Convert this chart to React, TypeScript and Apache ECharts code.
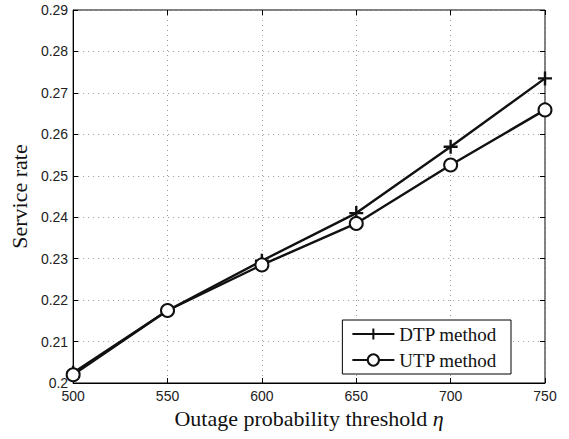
import React, { useEffect, useRef } from "react";
import * as echarts from "echarts";

const thresholds = [500, 550, 600, 650, 700, 750];
const dtpValues = [0.2025, 0.2175, 0.2295, 0.241, 0.257, 0.2735];
const utpValues = [0.202, 0.2175, 0.2285, 0.2385, 0.2526, 0.2659];
const seriesNames = ["DTP method", "UTP method"];

const PLUS = "path://M10,0 L10,20 M0,10 L20,10";

export default function App() {
  const ref = useRef<HTMLDivElement>(null);
  useEffect(() => {
    if (!ref.current) return;
    const chart = echarts.init(ref.current, null, { renderer: "svg" });
    const tickFont = { fontFamily: "Liberation Sans", fontSize: 14, color: "#222" };
    const fmtY = (v: number) => String(Number(v.toFixed(2)));
    const baseX = {
      type: "value" as const,
      min: 500,
      max: 750,
      interval: 50,
    };
    const baseY = {
      type: "value" as const,
      min: 0.2,
      max: 0.29,
      interval: 0.01,
    };
    chart.setOption({
      animation: false,
      backgroundColor: "#fff",
      grid: {
        left: 71,
        top: 10,
        right: 24,
        bottom: 56,
        show: true,
        borderColor: "#000",
        borderWidth: 1,
        backgroundColor: "transparent",
      },
      legend: {
        orient: "vertical",
        right: 58,
        bottom: 65,
        backgroundColor: "#fff",
        borderColor: "#000",
        borderWidth: 1,
        borderRadius: 0,
        padding: [4, 14, 4, 9],
        itemGap: 6,
        itemWidth: 42,
        itemHeight: 14,
        textStyle: { fontFamily: "Liberation Serif", fontSize: 19, lineHeight: 20, color: "#111", padding: [0, 0, 0, 0] },
        data: seriesNames,
      },
      xAxis: [
        {
          ...baseX,
          position: "bottom",
          axisLine: { show: true, lineStyle: { color: "#000", width: 1 } },
          axisTick: { show: true, inside: true, length: 5, lineStyle: { color: "#000" } },
          axisLabel: { ...tickFont, margin: 6 },
          splitLine: { show: true, lineStyle: { color: "#999", type: [1, 4], width: 1 } },
          name: "Outage probability threshold {i|η}",
          nameLocation: "middle",
          nameGap: 24,
          nameTextStyle: {
            fontFamily: "Liberation Serif",
            fontSize: 22,
            color: "#111",
            verticalAlign: "top",
            rich: { i: { fontFamily: "Liberation Serif", fontStyle: "italic", fontSize: 22, color: "#111" } },
          },
        },
        {
          ...baseX,
          position: "top",
          axisLine: { show: false },
          axisTick: { show: true, inside: true, length: 5, lineStyle: { color: "#000" } },
          axisLabel: { show: false },
          splitLine: { show: false },
        },
      ],
      yAxis: [
        {
          ...baseY,
          position: "left",
          axisLine: { show: true, lineStyle: { color: "#000", width: 1 } },
          axisTick: { show: true, inside: true, length: 5, lineStyle: { color: "#000" } },
          axisLabel: { ...tickFont, margin: 5, formatter: fmtY },
          splitLine: { show: true, lineStyle: { color: "#999", type: [1, 4], width: 1 } },
          name: "Service rate",
          nameLocation: "middle",
          nameGap: 38,
          nameTextStyle: { fontFamily: "Liberation Serif", fontSize: 22, color: "#111" },
        },
        {
          ...baseY,
          position: "right",
          axisLine: { show: false },
          axisTick: { show: true, inside: true, length: 5, lineStyle: { color: "#000" } },
          axisLabel: { show: false },
          splitLine: { show: false },
        },
      ],
      series: [
        {
          name: seriesNames[0],
          type: "line",
          xAxisIndex: 0,
          yAxisIndex: 0,
          data: thresholds.map((x, i) => [x, dtpValues[i]]),
          symbol: PLUS,
          symbolSize: 14,
          showAllSymbol: true,
          lineStyle: { color: "#111", width: 2.4 },
          itemStyle: { color: "#111", borderColor: "#111", borderWidth: 2.4 },
          z: 3,
        },
        {
          name: seriesNames[1],
          type: "line",
          xAxisIndex: 0,
          yAxisIndex: 0,
          data: thresholds.map((x, i) => [x, utpValues[i]]),
          symbol: "emptyCircle",
          symbolSize: 13,
          showAllSymbol: true,
          lineStyle: { color: "#111", width: 2.4 },
          itemStyle: { color: "#111", borderColor: "#111", borderWidth: 2.4 },
          z: 3,
        },
      ],
    });
    return () => chart.dispose();
  }, []);
  return <div ref={ref} style={{ width: 569, height: 439, position: "absolute", left: 0, top: 0 }} />;
}
